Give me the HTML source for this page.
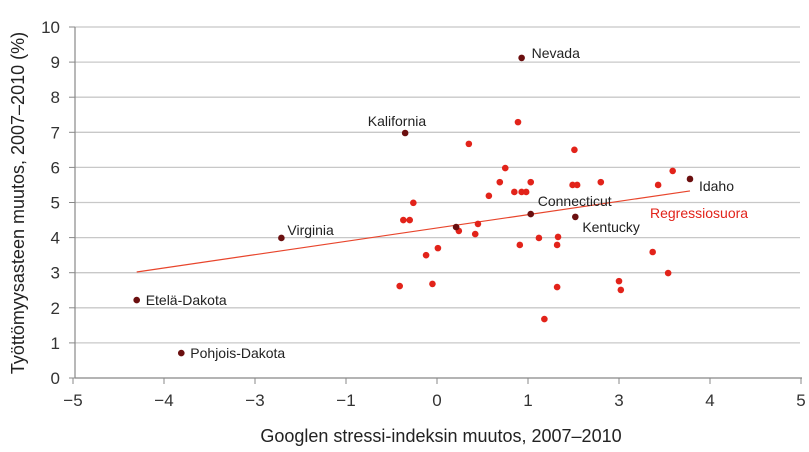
<!DOCTYPE html>
<html><head><meta charset="utf-8"><style>
html,body{margin:0;padding:0;background:#fff;}
svg{display:block;font-family:"Liberation Sans",sans-serif;}
</style></head><body>
<svg id="chart" width="809" height="452" viewBox="0 0 809 452"></svg>
<script>
const xTickValues = [-4,-3,-2,-1,0,1,2,3,4];
const xTickLabels = ["\u22125","\u22124","\u22123","\u22121","0","1","3","4","5"];
const yTickValues = [0,1,2,3,4,5,6,7,8,9,10];
const redX = [0.89,0.35,1.51,0.75,2.59,0.69,1.03,1.80,1.49,1.54,2.43,0.85,0.93,0.98,0.57,-0.26,-0.37,-0.30,0.45,0.24,0.42,1.12,1.33,0.91,1.32,0.01,-0.12,2.37,2.54,-0.05,-0.41,1.32,2.0,2.02,1.18];
const redY = [7.29,6.67,6.50,5.98,5.90,5.58,5.58,5.58,5.50,5.50,5.50,5.30,5.30,5.30,5.19,4.99,4.50,4.50,4.39,4.19,4.10,3.99,4.02,3.79,3.79,3.70,3.50,3.59,2.99,2.68,2.62,2.59,2.76,2.51,1.68];
const namedStates = ["Nevada","Kalifornia","Virginia","Etelä-Dakota","Pohjois-Dakota","Connecticut","Kentucky","Idaho",""];
const namedX = [0.93,-0.35,-1.71,-3.30,-2.81,1.03,1.52,2.78,0.21];
const namedY = [9.12,6.98,3.99,2.22,0.71,4.67,4.59,5.67,4.30];
const regX = [-3.30,2.78];
const regY = [3.02,5.33];

const NS="http://www.w3.org/2000/svg";
const svg=document.getElementById('chart');
const xS=v=>437+v*91;
const yS=v=>378-v*35.1;
function mk(tag,attrs,parent){const e=document.createElementNS(NS,tag);for(const k in attrs)e.setAttribute(k,attrs[k]);(parent||svg).appendChild(e);return e;}

yTickValues.forEach((v,i)=>{
  if(v>0){const g=mk('line',{x1:75,x2:800,y1:yS(v),y2:yS(v),stroke:'#c8c8c8','stroke-width':1.3});
  
  }
  const t=mk('line',{x1:69,x2:75,y1:yS(v),y2:yS(v),stroke:'#888','stroke-width':1});
  
  
  const l=mk('text',{x:60,y:yS(v)+6,'text-anchor':'end','font-size':17,fill:'#333'});
  l.textContent=v;
  
  
});
const ya=mk('line',{x1:75,x2:75,y1:yS(10),y2:yS(0),stroke:'#888','stroke-width':1.2});


const xa=mk('line',{x1:75,x2:802,y1:378,y2:378,stroke:'#888','stroke-width':1.2});


xTickValues.forEach((v,i)=>{
  const t=mk('line',{x1:xS(v),x2:xS(v),y1:378,y2:384,stroke:'#888','stroke-width':1});
  
  
  const l=mk('text',{x:xS(v),y:406,'text-anchor':'middle','font-size':17,fill:'#333'});
  l.textContent=xTickLabels[i];
  
  
});
const rl=mk('line',{x1:xS(regX[0]),y1:yS(regY[0]),x2:xS(regX[1]),y2:yS(regY[1]),stroke:'#e8452c','stroke-width':1.2});


redX.forEach((v,i)=>{
  const c=mk('circle',{cx:xS(v),cy:yS(redY[i]),r:3.3,fill:'#e2231a'});
  
  
});
const lblOff=[[10,-5,'start'],[21,-12,'end'],[6,-8,'start'],[9,0,'start'],[9,0,'start'],[7,-13,'start'],[7,10,'start'],[9,7,'start'],[0,0,'start']];
namedX.forEach((v,i)=>{
  const c=mk('circle',{cx:xS(v),cy:yS(namedY[i]),r:3.3,fill:'#6b0f0f'});
  
  
  if(namedStates[i]){
    const o=lblOff[i];
    const t=mk('text',{x:xS(v)+o[0],y:yS(namedY[i])+o[1]+5,'text-anchor':o[2],'font-size':14,fill:'#222'});
    t.textContent=namedStates[i];
    
    
  }
});
const rt=mk('text',{x:650,y:218,'font-size':14,fill:'#e2231a'});
rt.textContent='Regressiosuora';


const xt=mk('text',{x:441,y:442,'text-anchor':'middle','font-size':18,fill:'#222'});
xt.textContent='Googlen stressi-indeksin muutos, 2007–2010';


const yt=mk('text',{x:0,y:0,'text-anchor':'middle','font-size':18,fill:'#222',transform:'translate(24,203) rotate(-90)'});
yt.textContent='Työttömyysasteen muutos, 2007–2010 (%)';


</script>
</body></html>
